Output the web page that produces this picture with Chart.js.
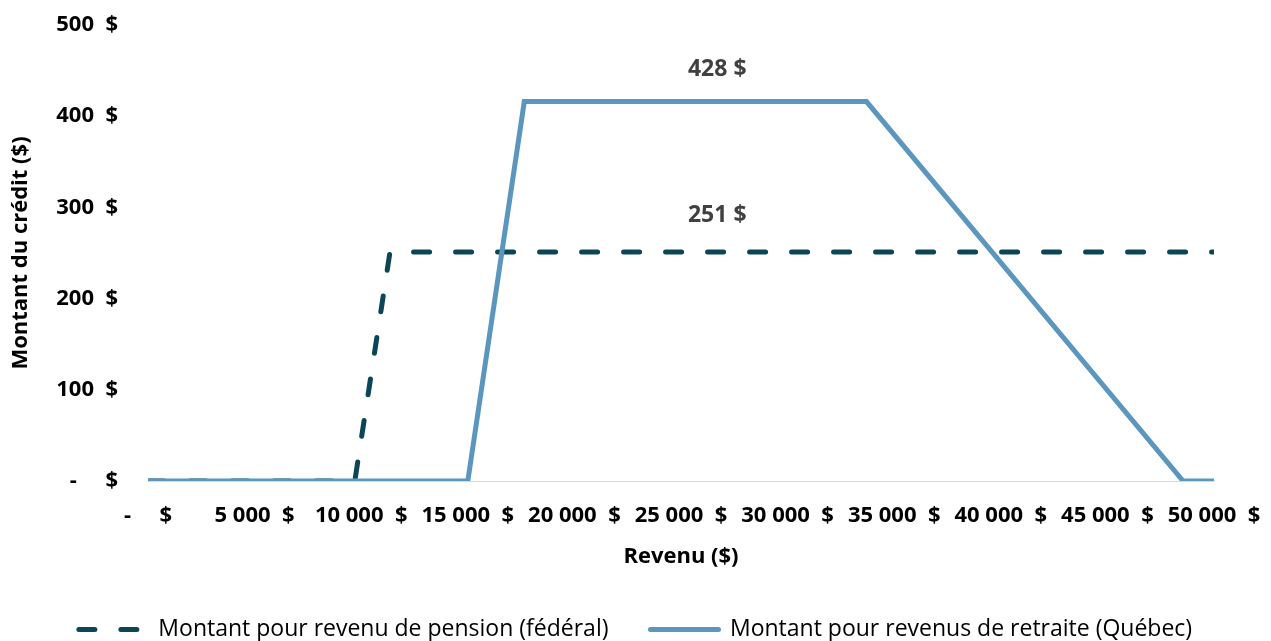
<!DOCTYPE html>
<html lang="fr">
<head>
<meta charset="utf-8">
<script src="https://cdn.jsdelivr.net/npm/chart.js@4/dist/chart.umd.min.js"></script>
<style>
  html, body { margin: 0; padding: 0; background: #fff; }
  #wrap { width: 1271px; height: 641px; }
</style>
</head>
<body>
<div id="wrap"><canvas id="graphCanvas" width="1271" height="641"></canvas></div>
<script>
// Points du crédit fédéral (revenu de pension)
const fedX = [0, 9700, 11350, 50000];
const fedY = [0, 0, 251, 251];

// Points du crédit québécois (revenus de retraite)
const qcX = [0, 15000, 17650, 33700, 48550, 50000];
const qcY = [0, 0, 416, 416, 0, 0];

// Étiquettes des séries et des montants
const seriesNames = ['Montant pour revenu de pension (fédéral)', 'Montant pour revenus de retraite (Québec)'];
const valueLabels = ['251 $', '428 $'];
const labelX = [26700, 26700];
const labelY = [251, 416];

// Format comptable des ticks
function moneyTick(v) {
    if (v === 0) return '-     $';
    return v.toLocaleString('fr-CA').replace(/\u202f|\u00a0/g, ' ') + '  $';
}

const fontFamily = '"Open Sans", sans-serif';

// Plugin pour les étiquettes de montant
const valueLabelPlugin = {
    id: 'valueLabels',
    afterDatasetsDraw(chart) {
        const ctx = chart.ctx;
        const xs = chart.scales.x, ys = chart.scales.y;
        const offsets = [37, 32];
        ctx.save();
        ctx.font = 'bold 23px ' + fontFamily;
        ctx.fillStyle = '#404040';
        ctx.textAlign = 'center';
        ctx.textBaseline = 'middle';
        valueLabels.forEach((txt, i) => {
            ctx.fillText(txt, xs.getPixelForValue(labelX[i]), ys.getPixelForValue(labelY[i]) - offsets[i]);
        });
        ctx.restore();
    }
};

const ctx = document.getElementById('graphCanvas').getContext('2d');
const chart = new Chart(ctx, {
    type: 'scatter',
    data: {
        datasets: [{
            label: seriesNames[0],
            data: fedX.map((x, i) => ({x: x, y: fedY[i]})),
            borderColor: '#0c4656',
            backgroundColor: '#0c4656',
            borderWidth: 5,
            borderDash: [16, 26],
            borderCapStyle: 'round',
            showLine: true,
            pointRadius: 0,
            fill: false,
            order: 2
        }, {
            label: seriesNames[1],
            data: qcX.map((x, i) => ({x: x, y: qcY[i]})),
            borderColor: '#5b96bf',
            backgroundColor: '#5b96bf',
            borderWidth: 5,
            borderCapStyle: 'round',
            borderJoinStyle: 'miter',
            showLine: true,
            pointRadius: 0,
            fill: false,
            order: 1
        }]
    },
    options: {
        responsive: false,
        animation: false,
        layout: { padding: 0 },
        plugins: {
            tooltip: { enabled: false },
            legend: {
                position: 'bottom',
                maxHeight: 65,
                labels: {
                    usePointStyle: true,
                    pointStyle: 'line',
                    pointStyleWidth: 68,
                    padding: 42,
                    color: '#000',
                    font: { family: fontFamily, size: 23 },
                    sort: (a, b) => a.datasetIndex - b.datasetIndex,
                    // garder le tiret de la série dans la légende
                    generateLabels: (chart) => {
                        const items = Chart.defaults.plugins.legend.labels.generateLabels(chart);
                        items.forEach(item => {
                            const ds = chart.data.datasets[item.datasetIndex];
                            item.lineDash = ds.borderDash || [];
                            item.lineCap = 'round';
                            item.lineWidth = 5;
                        });
                        return items;
                    }
                }
            }
        },
        scales: {
            x: {
                type: 'linear',
                min: 0,
                max: 50000,
                grid: { display: false },
                border: { display: true, color: '#d9d9d9', width: 1 },
                ticks: {
                    stepSize: 5000,
                    padding: 14,
                    maxRotation: 0,
                    autoSkip: false,
                    color: '#000',
                    font: { family: fontFamily, size: 22, weight: 'bold' },
                    callback: moneyTick
                },
                title: {
                    display: true,
                    text: 'Revenu ($)',
                    color: '#000',
                    padding: { top: 8, bottom: 6 },
                    font: { family: fontFamily, size: 22, weight: 'bold' }
                },
                afterFit: (scale) => {
                    scale.height = 95;
                    scale.paddingRight = 57;
                }
            },
            y: {
                min: 0,
                max: 500,
                grid: { display: false },
                border: { display: false },
                ticks: {
                    stepSize: 100,
                    padding: 22,
                    color: '#000',
                    font: { family: fontFamily, size: 22, weight: 'bold' },
                    callback: moneyTick
                },
                title: {
                    display: true,
                    text: 'Montant du crédit ($)',
                    color: '#000',
                    padding: { top: 8, bottom: 0 },
                    font: { family: fontFamily, size: 22, weight: 'bold' }
                },
                afterFit: (scale) => {
                    scale.width = 148;
                    scale.paddingTop = 25;
                }
            }
        }
    },
    plugins: [valueLabelPlugin]
});
</script>
</body>
</html>
